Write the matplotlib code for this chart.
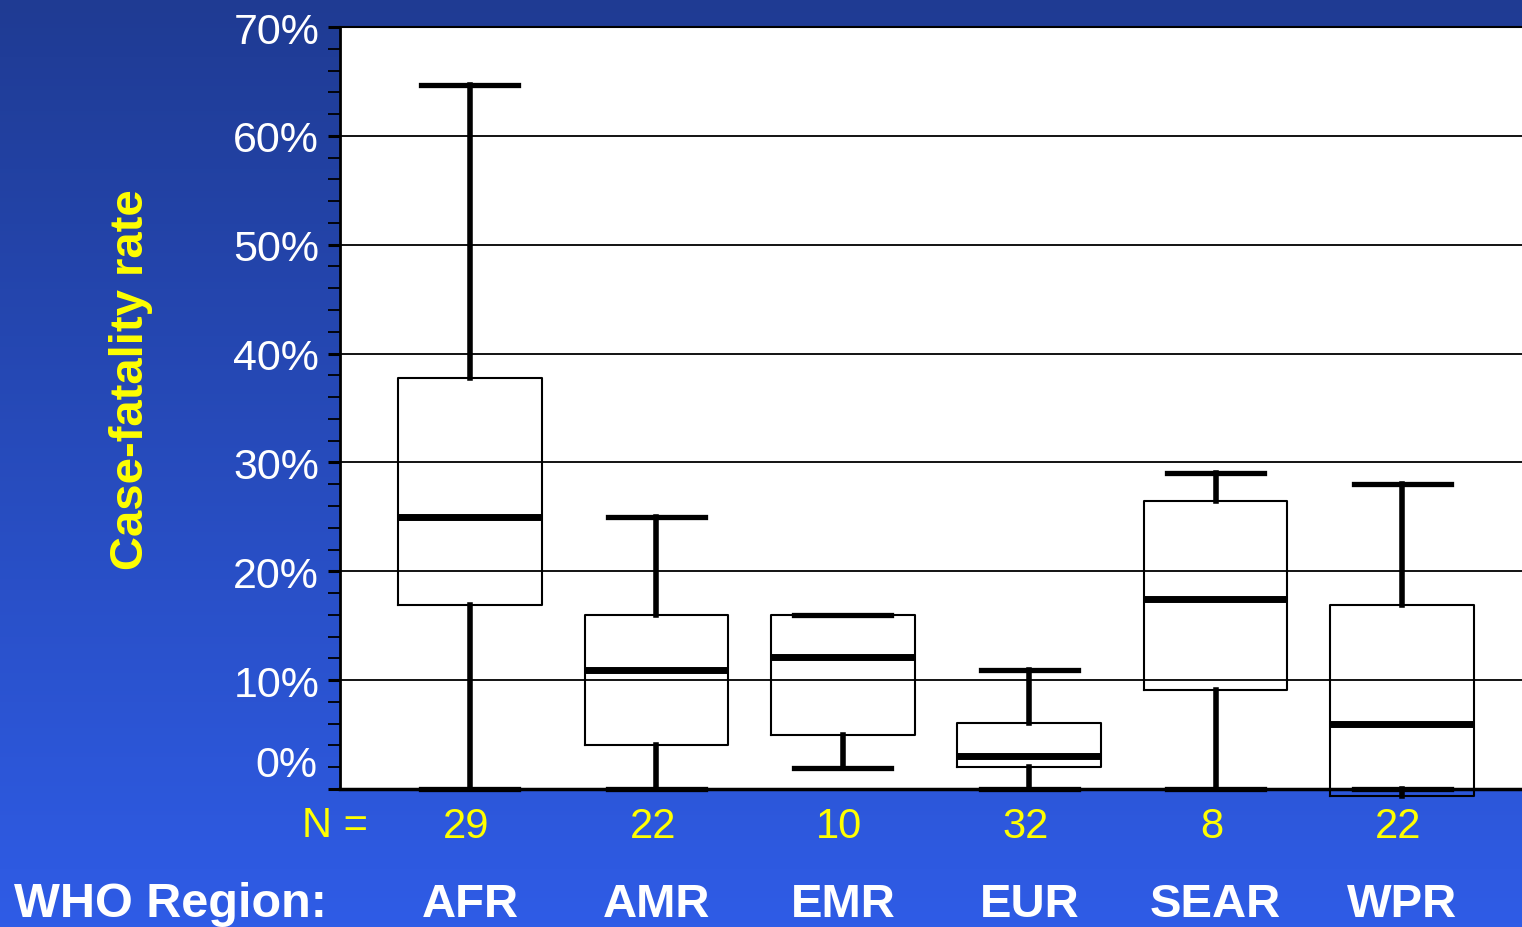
import numpy as np
import matplotlib
matplotlib.use("Agg")
import matplotlib.pyplot as plt
import matplotlib.transforms as mtransforms
from matplotlib.ticker import MultipleLocator, FuncFormatter

# case-fatality rate (%) by WHO region
regions = ["AFR", "AMR", "EMR", "EUR", "SEAR", "WPR"]
n_obs = [29, 22, 10, 32, 8, 22]
whis_lo = [0.0, 0.0, 1.9, 0.0, 0.0, 0.0]
q1 = [16.9, 4.0, 5.0, 2.0, 9.1, -0.6]
median = [25.0, 10.9, 12.1, 3.0, 17.5, 6.0]
q3 = [37.8, 16.0, 16.0, 6.1, 26.5, 16.9]
whis_hi = [64.7, 25.0, 16.0, 10.9, 29.0, 28.0]

plt.rcParams["font.family"] = ["Liberation Sans", "DejaVu Sans"]

fig = plt.figure(figsize=(15.22, 9.28), dpi=100)

# blue gradient backdrop
bg = fig.add_axes([0, 0, 1, 1], zorder=-10)
top = np.array([31, 59, 147]) / 255.0
bot = np.array([47, 92, 230]) / 255.0
t = np.linspace(0, 1, 256)[:, None]
grad = top[None, :] * (1 - t) + bot[None, :] * t
bg.imshow(grad[:, None, :], aspect="auto", extent=[0, 1, 0, 1])
bg.set_axis_off()

ax = fig.add_axes([340 / 1522, 1 - 790 / 928, 1 - 340 / 1522, (790 - 28) / 928])
ax.set_facecolor("white")

stats = []
for i, r in enumerate(regions):
    stats.append(dict(label=r, whislo=whis_lo[i], q1=q1[i], med=median[i],
                      q3=q3[i], whishi=whis_hi[i], fliers=[]))

pos = np.arange(1, len(regions) + 1)
bp = ax.bxp(stats, positions=pos, widths=0.77, capwidths=0.52, showfliers=False,
            boxprops=dict(color="black", linewidth=1.5),
            medianprops=dict(color="black", linewidth=5),
            whiskerprops=dict(color="black", linewidth=4),
            capprops=dict(color="black", linewidth=3.8),
            zorder=3)
for key in ("boxes", "medians", "whiskers", "caps"):
    for art in bp[key]:
        art.set_clip_on(False)

ax.set_xlim(0.303, 6.643)
ax.set_ylim(0, 70)
ax.yaxis.set_major_locator(MultipleLocator(10))
ax.yaxis.set_minor_locator(MultipleLocator(2))
ax.yaxis.set_major_formatter(FuncFormatter(lambda v, p: "" if v == 0 else f"{v:.0f}%"))
ax.grid(axis="y", which="major", color="black", linewidth=1.3, zorder=1)
ax.set_axisbelow(True)
ax.tick_params(axis="y", which="major", direction="out", length=9, width=2.2,
               colors="black", labelcolor="white", labelsize=31, pad=6)
ax.tick_params(axis="y", which="minor", direction="out", length=9, width=1.3, colors="black")
ax.tick_params(axis="x", bottom=False, labelbottom=False)
ax.spines["right"].set_visible(False)
ax.spines["top"].set_linewidth(1.5)
ax.spines["left"].set_linewidth(2)
ax.spines["bottom"].set_linewidth(2.5)

# the 0% label sits a little above its tick
ax.text(-0.0195, 2.2, "0%", transform=ax.get_yaxis_transform(), ha="right", va="center",
        color="white", fontsize=31)

fig.text(131 / 1522, 1 - 380 / 928, "Case-fatality rate", rotation=90, ha="center", va="center",
         color="#ffff00", fontsize=34, fontweight="bold")

ntr = ax.get_xaxis_transform()
fig.text(335 / 1522, 1 - 826 / 928, "N =", ha="center", va="center",
         color="#ffff00", fontsize=30)
for p, n in zip(pos, n_obs):
    ax.text(p - 0.02, -0.048, str(n), transform=ntr, ha="center", va="center",
            color="#ffff00", fontsize=30, clip_on=False)

fig.text(14 / 1522, 1 - 917 / 928, "WHO Region:", ha="left", va="baseline",
         color="white", fontsize=35, fontweight="bold")
lab_tr = mtransforms.blended_transform_factory(ax.transData, fig.transFigure)
for p, r in zip(pos, regions):
    fig.text(p, 0.001, r, transform=lab_tr, ha="center", va="bottom",
             color="white", fontsize=34, fontweight="bold")

fig.savefig("out.png", dpi=100)
